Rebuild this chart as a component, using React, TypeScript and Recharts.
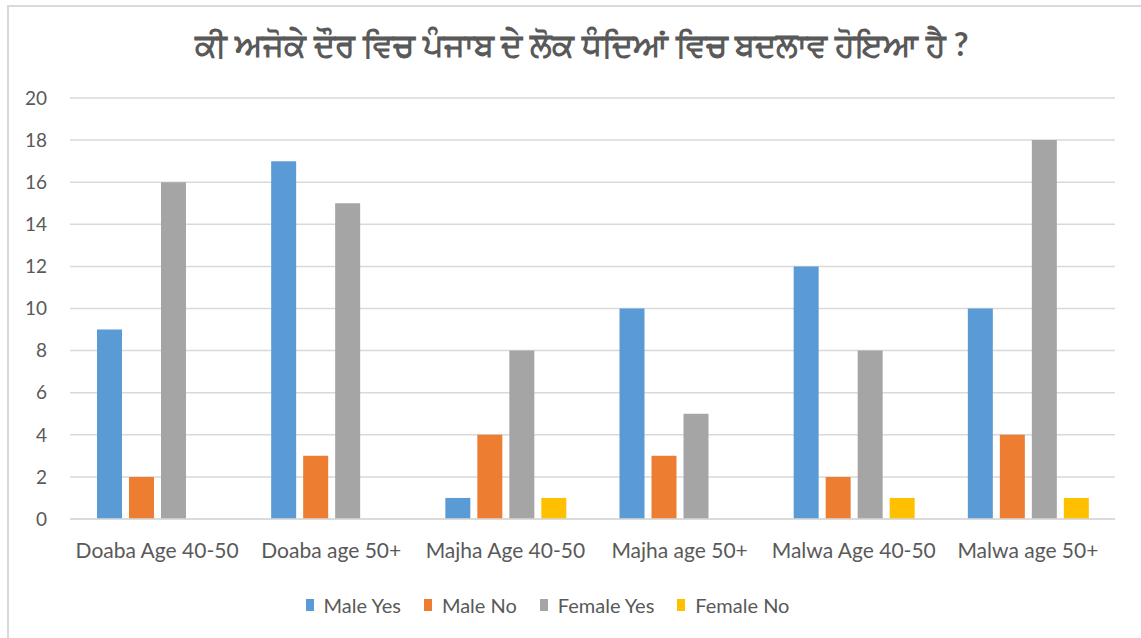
import { Bar, BarChart, CartesianGrid, XAxis, YAxis } from "recharts";

const categories = [
  "Doaba Age 40-50",
  "Doaba age 50+",
  "Majha Age 40-50",
  "Majha age 50+",
  "Malwa Age 40-50",
  "Malwa age 50+",
];
const maleYes = [9, 17, 1, 10, 12, 10];
const maleNo = [2, 3, 4, 3, 2, 4];
const femaleYes = [16, 15, 8, 5, 8, 18];
const femaleNo = [0, 0, 1, 0, 1, 1];
const yTicks = [0, 2, 4, 6, 8, 10, 12, 14, 16, 18, 20];

const title = "ਕੀ ਅਜੋਕੇ ਦੌਰ ਵਿਚ ਪੰਜਾਬ ਦੇ ਲੋਕ ਧੰਦਿਆਂ ਵਿਚ ਬਦਲਾਵ ਹੋਇਆ ਹੈ ?";

const series = [
  { key: "maleYes", name: "Male Yes", color: "#5b9bd5" },
  { key: "maleNo", name: "Male No", color: "#ed7d31" },
  { key: "femaleYes", name: "Female Yes", color: "#a5a5a5" },
  { key: "femaleNo", name: "Female No", color: "#ffc000" },
];

const data = categories.map((c, i) => ({
  name: c,
  maleYes: maleYes[i],
  maleNo: maleNo[i],
  femaleYes: femaleYes[i],
  femaleNo: femaleNo[i],
}));

const FONT = "Lato, 'Open Sans', sans-serif";
const TEXT = "#595959";
const GRID = "#d9d9d9";

export default function App() {
  return (
    <div
      style={{
        position: "absolute",
        left: 0,
        top: 0,
        width: 1141,
        height: 638,
        background: "#fff",
        overflow: "hidden",
        fontFamily: FONT,
      }}
    >
      {/* chart frame, only top + left edges are visible in the crop */}
      <div
        style={{
          position: "absolute",
          left: 7,
          top: 5,
          width: 1200,
          height: 700,
          borderTop: `2px solid ${GRID}`,
          borderLeft: `2px solid ${GRID}`,
        }}
      />
      <div
        style={{
          position: "absolute",
          left: 0,
          width: 1164,
          top: 24,
          textAlign: "center",
          fontSize: 32,
          fontWeight: 700,
          color: TEXT,
        }}
      >
        {title}
      </div>
      <div style={{ position: "absolute", left: 0, top: 0 }}>
        <BarChart
          width={1141}
          height={638}
          data={data}
          margin={{ top: 98, right: 26, left: 0, bottom: 79 }}
          barCategoryGap={27}
          barGap={7}
        >
          <CartesianGrid vertical={false} stroke={GRID} strokeWidth={1.5} />
          <XAxis
            dataKey="name"
            height={40}
            tickLine={false}
            tickSize={0}
            tickMargin={24}
            axisLine={{ stroke: GRID, strokeWidth: 1.5 }}
            tick={{ fill: TEXT, fontSize: 21, fontFamily: FONT }}
            interval={0}
          />
          <YAxis
            width={70}
            domain={[0, 20]}
            ticks={yTicks}
            tickLine={false}
            axisLine={false}
            tickSize={0}
            tickMargin={23}
            tick={{ fill: TEXT, fontSize: 19, fontFamily: FONT }}
          />
          {series.map((s) => (
            <Bar
              key={s.key}
              dataKey={s.key}
              name={s.name}
              fill={s.color}
              isAnimationActive={false}
            />
          ))}
        </BarChart>
      </div>
      <div
        style={{
          position: "absolute",
          left: 0,
          width: 1141,
          top: 593,
          display: "flex",
          justifyContent: "center",
          gap: 23,
          paddingRight: 46,
          boxSizing: "border-box",
          fontSize: 20,
          color: TEXT,
        }}
      >
        {series.map((s) => (
          <div key={s.key} style={{ display: "flex", alignItems: "center", gap: 10 }}>
            <span style={{ display: "inline-block", width: 8, height: 12, background: s.color }} />
            <span>{s.name}</span>
          </div>
        ))}
      </div>
    </div>
  );
}
